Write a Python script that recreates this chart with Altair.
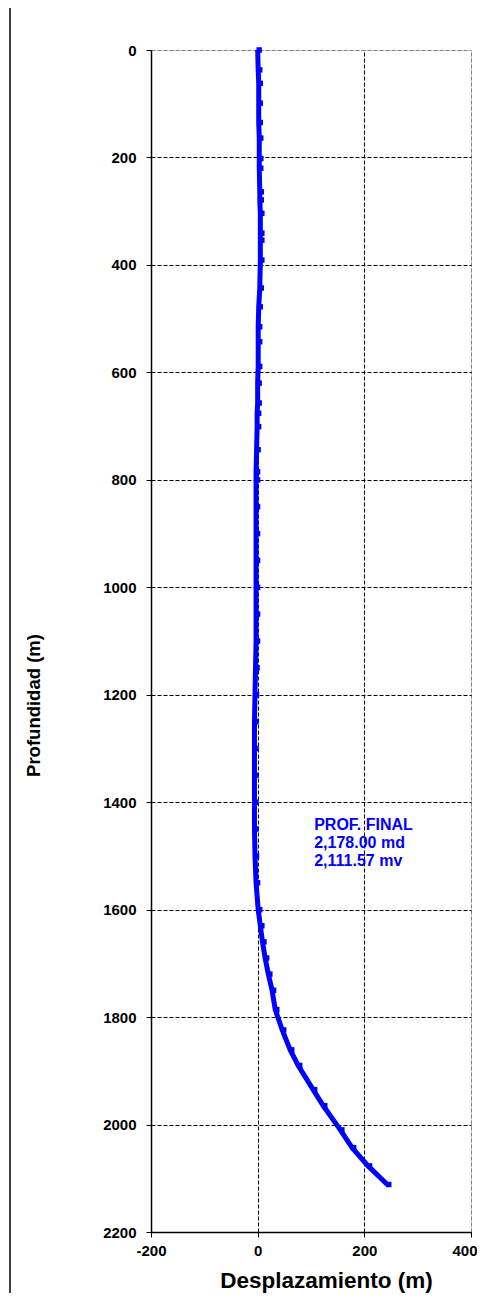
import altair as alt
import pandas as pd

# Survey stations
depth_m = [0, 37, 62, 99, 135, 164, 202, 220, 264, 279, 304, 341, 354, 391, 443, 478,
           515, 543, 589, 620, 657, 676, 701, 744, 785, 800, 850, 900, 950, 1000, 1050,
           1100, 1150, 1200, 1250, 1300, 1350, 1400, 1450, 1500, 1550, 1600, 1630, 1660,
           1690, 1720, 1750, 1786, 1824, 1861, 1890, 1935, 1965, 2010, 2043, 2077, 2111.57]
displacement_m = [0, 1, 2, 2, 2, 3, 3, 3, 4, 4, 5, 5, 5, 5, 4, 2,
                  1, 1, 1, 0, 0, -1, -1, -2, -3, -3, -3, -3, -3, -3, -3,
                  -3, -4, -5, -6, -6, -6, -6, -6, -5, -3, 1, 5, 9,
                  14, 20, 27, 33, 46, 61, 76, 104, 123, 155, 177, 207, 243]

x_ticks = [-200, 0, 200, 400]
y_ticks = [0, 200, 400, 600, 800, 1000, 1200, 1400, 1600, 1800, 2000, 2200]
annotation_text = "PROF. FINAL\n2,178.00 md\n2,111.57 mv"
annotation_x = [106]
annotation_y = [1451]

FONT = "Liberation Sans"
BLUE = "#0000ff"

df = pd.DataFrame({"disp": displacement_m, "depth": depth_m,
                   "order": list(range(len(depth_m)))})

xscale = alt.Scale(domain=[-200, 400], nice=False, zero=False)
yscale = alt.Scale(domain=[0, 2200], nice=False, reverse=True, zero=False)

xaxis = alt.Axis(values=x_ticks, title="Desplazamiento (m)", grid=True,
                 labelExpr="'' + datum.value",
                 gridColor={"expr": "datum.value == 400 ? '#808080' : '#000000'"},
                 gridDash=[4, 2], gridWidth=1,
                 domainColor="#000000", domainWidth=1.5, tickColor="#000000",
                 tickSize=5, labelFont=FONT, labelFontSize=15, labelFontWeight="bold",
                 labelColor="#000000", labelPadding=6, labelFlush=False,
                 labelAlign={"expr": "datum.value == 400 ? 'right' : 'center'"},
                 labelOffset={"expr": "datum.value == 400 ? 6 : 0"},
                 titleFont=FONT, titleFontSize=22.5, titleFontWeight="bold",
                 titleColor="#000000", titleX=175, titleY=55, titleBaseline="alphabetic",
                 titleAnchor="middle")
yaxis = alt.Axis(values=y_ticks, title="Profundidad (m)", grid=True,
                 labelExpr="'' + datum.value",
                 gridColor={"expr": "datum.value == 0 ? '#808080' : '#000000'"},
                 gridDash=[4, 2], gridWidth=1,
                 domainColor="#000000", domainWidth=1.5, tickColor="#000000",
                 tickSize=5, labelFont=FONT, labelFontSize=15, labelFontWeight="bold",
                 labelColor="#000000", labelPadding=10, labelFlush=False,
                 titleFont=FONT, titleFontSize=18.5, titleFontWeight="bold",
                 titleColor="#000000", titleAngle=-90, titleX=-118, titleY=655,
                 titleAlign="center", titleBaseline="middle")

base = alt.Chart(df)

line = base.mark_line(color=BLUE, strokeWidth=5, clip=False).encode(
    x=alt.X("disp:Q", scale=xscale, axis=xaxis),
    y=alt.Y("depth:Q", scale=yscale, axis=yaxis),
    order=alt.Order("order:Q"),
)
points = base.mark_point(shape="square", filled=True, size=30, color=BLUE,
                         opacity=1, clip=False, xOffset=1.5).encode(
    x=alt.X("disp:Q", scale=xscale),
    y=alt.Y("depth:Q", scale=yscale),
)

ann_df = pd.DataFrame({"x": annotation_x, "y": annotation_y, "t": [annotation_text]})
annotation = alt.Chart(ann_df).mark_text(
    align="left", baseline="alphabetic", lineBreak="\n", lineHeight=18,
    font=FONT, fontSize=16, fontWeight="bold", color=BLUE
).encode(
    x=alt.X("x:Q", scale=xscale),
    y=alt.Y("y:Q", scale=yscale),
    text="t:N",
)

one = pd.DataFrame({"a": [0]})
frame_top = alt.Chart(one).mark_rule(color="#404040", strokeWidth=2, clip=False).encode(
    x=alt.value(-141), x2=alt.value(330), y=alt.value(-44)
)
frame_left = alt.Chart(one).mark_rule(color="#404040", strokeWidth=2, clip=False).encode(
    x=alt.value(-141), y=alt.value(-45), y2=alt.value(1255)
)

chart = alt.layer(frame_top, frame_left, line, points, annotation).properties(
    width=320, height=1182,
    autosize=alt.AutoSizeParams(type="none"),
    padding={"left": 143, "top": 42, "right": 6, "bottom": 61},
).configure_view(stroke=None).configure(background="#ffffff")

chart.save("out.html", embed_options={"renderer": "svg", "actions": False})
